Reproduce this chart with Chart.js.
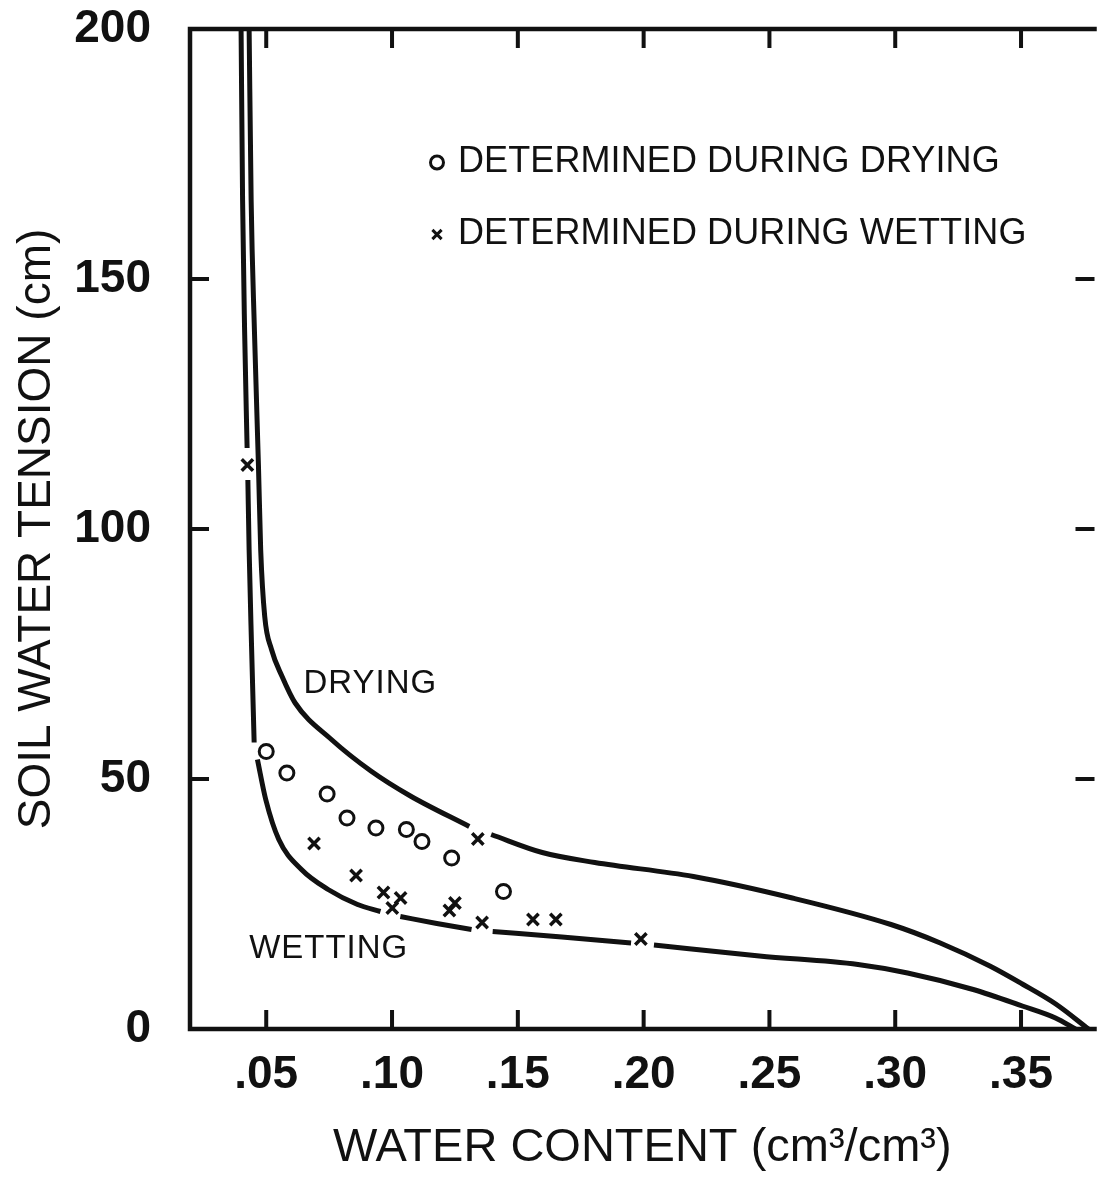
<!DOCTYPE html>
<html>
<head>
<meta charset="utf-8">
<script src="https://cdn.jsdelivr.net/npm/chart.js@4.4.1/dist/chart.umd.min.js"></script>
<style>
  html, body { margin: 0; padding: 0; background: #fff; }
  #wrap { width: 1106px; height: 1179px; }
</style>
</head>
<body>
<div id="wrap"><canvas id="c" width="1106" height="1179"></canvas></div>
<script>
// Soil water characteristic: drying and wetting branches + measured points.
// null entries break the curve where a point sits on it.
const dryingTheta = [0.0432, 0.0440, 0.0453, 0.0469, 0.0478, 0.0494, 0.0521, 0.0563, 0.0615, 0.0759, 0.0916, 0.1073, 0.1307, null,
  0.1394, 0.1597, 0.1806, 0.2198, 0.2591, 0.2983, 0.3179, 0.3376, 0.3505, 0.3638, 0.3768];
const dryingTension = [200, 165.8, 139.8, 112.8, 95.8, 82.5, 75.9, 70.5, 65.2, 57.9, 51.6, 46.6, 40.5, null,
  38.9, 35.3, 33.3, 30.5, 26.2, 20.9, 17.2, 12.6, 9.0, 5.0, 0];

const wettingTheta = [0.0400, 0.0406, 0.0414, 0.0424, null, 0.0427, 0.0432, 0.0442, 0.0452, null,
  0.0465, 0.0498, 0.0550, 0.0640, 0.0746, 0.0863, 0.0954, null, 0.1033, 0.1178, 0.1316, null,
  0.1400, 0.1675, 0.1950, null, 0.2041, 0.2460, 0.2852, 0.3049, 0.3310, 0.3505, 0.3637, 0.3716];
const wettingTension = [200, 165.8, 139.8, 116.2, null, 109.8, 95.8, 75.9, 57.3, null,
  53.9, 45.9, 37.9, 31.9, 27.9, 24.9, 23.5, null, 22.5, 21.1, 19.9, null,
  19.5, 18.4, 17.2, null, 16.8, 14.6, 12.9, 11.2, 7.9, 4.6, 2.2, 0];

const dryingPtTheta = [0.0500, 0.0582, 0.0742, 0.0821, 0.0936, 0.1057, 0.1119, 0.1237, 0.1443];
const dryingPtTension = [55.5, 51.2, 47.0, 42.2, 40.2, 39.9, 37.5, 34.2, 27.5];
const wettingPtTheta = [0.0425, 0.0690, 0.0857, 0.0966, 0.1034, 0.1001, 0.1228, 0.1250, 0.1341, 0.1358, 0.1560, 0.1651, 0.1989];
const wettingPtTension = [112.8, 37.1, 30.7, 27.3, 26.2, 24.2, 23.7, 25.2, 38.0, 21.3, 21.9, 21.9, 18.0];

const thetaTicks = [0.05, 0.10, 0.15, 0.20, 0.25, 0.30, 0.35];
const thetaTickLabels = ['.05', '.10', '.15', '.20', '.25', '.30', '.35'];
const tensionTicks = [0, 50, 100, 150, 200];
const tensionTickLabels = ['0', '50', '100', '150', '200'];

const legendLabels = ['DETERMINED DURING DRYING', 'DETERMINED DURING WETTING'];
const curveLabels = [
  { text: 'DRYING', x: 0.0648, y: 67.2 },
  { text: 'WETTING', x: 0.0432, y: 14.2 },
];

const FONT = "'Liberation Sans', Arial, sans-serif";
const INK = '#111';

const pairs = (xs, ys) => xs.map((x, i) => ({ x, y: ys[i] }));

// frame, inward ticks on all four sides, legend and curve labels
const framePlugin = {
  id: 'frame',
  afterDatasetsDraw(chart) {
    const { ctx, chartArea: a, scales: { x, y } } = chart;
    const tl = 19;
    ctx.save();
    ctx.strokeStyle = INK;
    ctx.lineWidth = 4.5;
    ctx.lineCap = 'square';
    ctx.beginPath();
    ctx.moveTo(a.left, a.bottom); ctx.lineTo(a.left, a.top); ctx.lineTo(a.right, a.top);
    ctx.moveTo(a.left, a.bottom); ctx.lineTo(a.right, a.bottom);
    ctx.stroke();

    ctx.lineCap = 'butt';
    ctx.lineWidth = 4;
    ctx.beginPath();
    thetaTicks.forEach((v) => {
      const px = x.getPixelForValue(v);
      ctx.moveTo(px, a.bottom); ctx.lineTo(px, a.bottom - tl);
      ctx.moveTo(px, a.top); ctx.lineTo(px, a.top + tl);
    });
    tensionTicks.slice(1, -1).forEach((v) => {
      const py = y.getPixelForValue(v);
      ctx.moveTo(a.left, py); ctx.lineTo(a.left + tl, py);
      ctx.moveTo(a.right, py); ctx.lineTo(a.right - tl, py);
    });
    ctx.stroke();

    // legend
    ctx.fillStyle = INK;
    ctx.textBaseline = 'middle';
    ctx.textAlign = 'left';
    ctx.font = `36px ${FONT}`;
    ctx.letterSpacing = '0.1px';
    const lx = a.left + 247;
    const ly = [y.getPixelForValue(173.3), y.getPixelForValue(158.9)];
    [2, 3].forEach((di, i) => {
      const ds = chart.data.datasets[di];
      ctx.save();
      ctx.fillStyle = '#fff';
      ctx.strokeStyle = INK;
      ctx.lineWidth = 3;
      Chart.helpers.drawPoint(ctx, { pointStyle: ds.pointStyle, radius: 6.5, borderWidth: 3, rotation: 0 }, lx, ly[i]);
      ctx.restore();
      ctx.fillText(legendLabels[i], lx + 21, ly[i]);
    });

    // curve labels
    ctx.textBaseline = 'alphabetic';
    ctx.font = `33px ${FONT}`;
    ctx.letterSpacing = '1px';
    curveLabels.forEach((l) => ctx.fillText(l.text, x.getPixelForValue(l.x), y.getPixelForValue(l.y)));
    ctx.restore();
  },
};

new Chart(document.getElementById('c'), {
  type: 'scatter',
  data: {
    datasets: [
      {
        type: 'line', label: 'Drying', data: pairs(dryingTheta, dryingTension),
        borderColor: INK, borderWidth: 5, pointRadius: 0, cubicInterpolationMode: 'monotone', spanGaps: false, fill: false,
      },
      {
        type: 'line', label: 'Wetting', data: pairs(wettingTheta, wettingTension),
        borderColor: INK, borderWidth: 5, pointRadius: 0, cubicInterpolationMode: 'monotone', spanGaps: false, fill: false,
      },
      {
        label: legendLabels[0], data: pairs(dryingPtTheta, dryingPtTension),
        pointStyle: 'circle', pointRadius: 7, borderWidth: 3, borderColor: INK, backgroundColor: '#fff',
      },
      {
        label: legendLabels[1], data: pairs(wettingPtTheta, wettingPtTension),
        pointStyle: 'crossRot', pointRadius: 8, borderWidth: 3.5, borderColor: INK, backgroundColor: INK,
      },
    ],
  },
  options: {
    responsive: false,
    animation: false,
    events: [],
    layout: { padding: { left: 0, right: 0, top: 29, bottom: 0 } },
    plugins: { legend: { display: false }, tooltip: { enabled: false } },
    scales: {
      x: {
        type: 'linear', min: 0.0197, max: 0.3792,
        afterFit(s) { s.height = 150; s.paddingLeft = 0; s.paddingRight = 0; },
        afterBuildTicks(s) { s.ticks = thetaTicks.map((value) => ({ value })); },
        grid: { display: false },
        border: { display: false },
        ticks: {
          color: INK, padding: 11, maxRotation: 0, autoSkip: false,
          font: { family: FONT, size: 46, weight: 'bold' },
          callback: (v) => thetaTickLabels[thetaTicks.indexOf(v)],
        },
        title: {
          display: true, text: 'WATER CONTENT (cm³/cm³)', color: INK,
          font: { family: FONT, size: 47 }, padding: { top: 0, bottom: 3 },
        },
      },
      y: {
        type: 'linear', min: 0, max: 200,
        afterFit(s) { s.width = 190; s.paddingTop = 0; s.paddingBottom = 0; },
        afterBuildTicks(s) { s.ticks = tensionTicks.map((value) => ({ value })); },
        grid: { display: false },
        border: { display: false },
        ticks: {
          color: INK, padding: 31, autoSkip: false,
          font: { family: FONT, size: 46, weight: 'bold' },
          callback: (v) => tensionTickLabels[tensionTicks.indexOf(v)],
        },
        title: {
          display: true, text: 'SOIL WATER TENSION (cm)', color: INK,
          font: { family: FONT, size: 46 }, padding: { top: 10, bottom: 0 },
        },
      },
    },
  },
  plugins: [framePlugin],
});
</script>
</body>
</html>
